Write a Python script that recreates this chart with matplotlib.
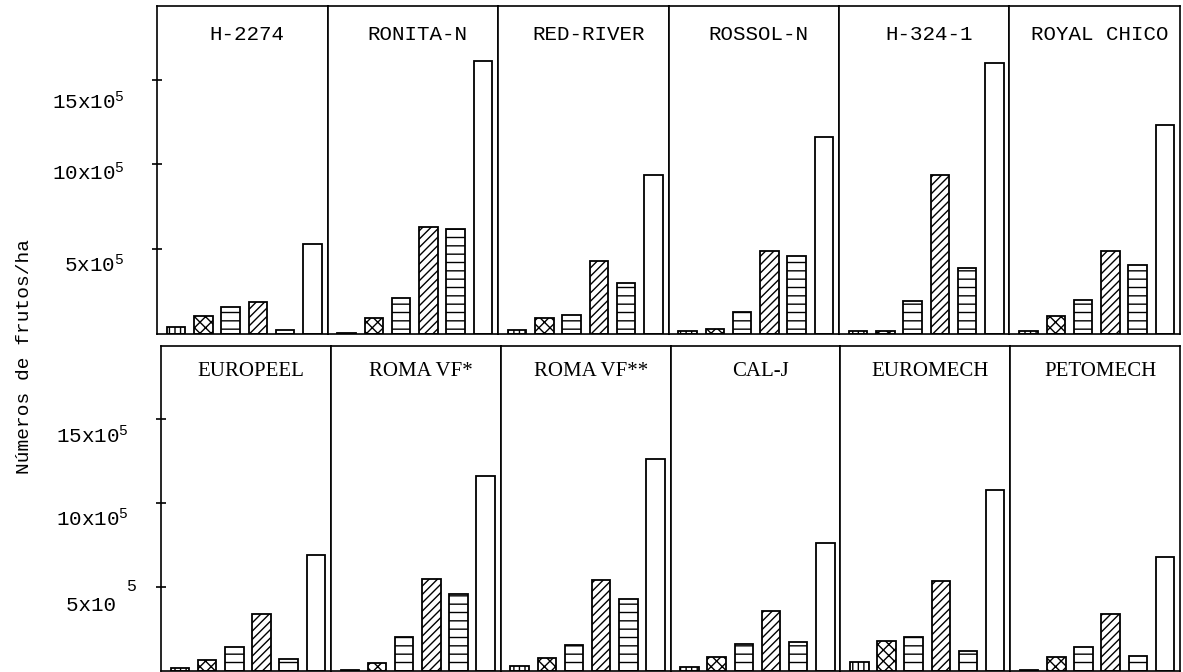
import matplotlib
matplotlib.use("Agg")
import matplotlib.pyplot as plt
from matplotlib.transforms import ScaledTranslation

# ---- data (values in units of 10^5 fruits/ha) ----
cultivares = ["H-2274", "RONITA-N", "RED-RIVER", "ROSSOL-N", "H-324-1", "ROYAL CHICO",
              "EUROPEEL", "ROMA VF*", "ROMA VF**", "CAL-J", "EUROMECH", "PETOMECH"]
serie_1 = [0.4, 0.05, 0.24, 0.18, 0.2, 0.15, 0.18, 0.05, 0.3, 0.25, 0.55, 0.05]
serie_2 = [1.06, 0.94, 0.95, 0.3, 0.2, 1.06, 0.66, 0.48, 0.8, 0.85, 1.8, 0.85]
serie_3 = [1.6, 2.1, 1.1, 1.3, 1.94, 2.0, 1.45, 2.0, 1.57, 1.6, 2.0, 1.45]
serie_4 = [1.9, 6.3, 4.3, 4.9, 9.4, 4.9, 3.4, 5.5, 5.4, 3.6, 5.35, 3.4]
serie_5 = [0.25, 6.2, 3.0, 4.6, 3.9, 4.1, 0.72, 4.6, 4.3, 1.75, 1.2, 0.9]
serie_6 = [5.3, 16.1, 9.4, 11.6, 16.0, 12.35, 6.9, 11.6, 12.65, 7.6, 10.8, 6.8]
ytick_vals = [5, 10, 15]
ytick_labels_top = ["5x10$^{5}$", "10x10$^{5}$", "15x10$^{5}$"]
ytick_labels_bot = ["5x10 ", "10x10$^{5}$", "15x10$^{5}$"]
ylabel = "Números de frutos/ha"

series = [serie_1, serie_2, serie_3, serie_4, serie_5, serie_6]
hatches = ["|||", "xxx", "--", "////", "--", ""]

plt.rcParams["hatch.linewidth"] = 1.0
plt.rcParams["mathtext.fontset"] = "custom"
plt.rcParams["mathtext.rm"] = "Liberation Mono"
plt.rcParams["mathtext.it"] = "Liberation Mono"

W, H = 1183, 672
fig = plt.figure(figsize=(W / 100, H / 100), dpi=100)

rows = [
    dict(left=157, right=1180, top=6, bottom=334, font="Liberation Mono", ty=34,
         fs=15, labels=ytick_labels_top, drop=[14, 6, 20]),
    dict(left=161, right=1180, top=346, bottom=671, font="Liberation Serif", ty=371,
         fs=15, labels=ytick_labels_bot, drop=[16, 14, 15]),
]
positions = list(range(6))

for r, row in enumerate(rows):
    pw = (row["right"] - row["left"]) / 6
    for c in range(6):
        idx = r * 6 + c
        x0 = row["left"] + c * pw
        ax = fig.add_axes([x0 / W, 1 - row["bottom"] / H, pw / W,
                           (row["bottom"] - row["top"]) / H])
        vals = [s[idx] for s in series]
        for p, v, h in zip(positions, vals, hatches):
            ax.bar(p, v, width=0.68, facecolor="white", edgecolor="black",
                   hatch=h, linewidth=1.3)
        ax.set_xlim(-0.7, 5.55)
        ax.set_ylim(0, 19.35)
        ax.set_xticks([])
        for sp in ax.spines.values():
            sp.set_linewidth(1.2)
        if c == 0:
            ax.set_yticks(ytick_vals)
            ax.set_yticklabels(row["labels"], family="Liberation Mono", fontsize=15)
            ax.tick_params(axis="y", direction="inout", length=7, width=1.2, pad=20)
            for lab, d in zip(ax.get_yticklabels(), row["drop"]):
                lab.set_transform(lab.get_transform() +
                                  ScaledTranslation(0, -d / 100, fig.dpi_scale_trans))
            if r == 1:
                # raised exponent of the lowest label, as in the original
                ax.text(-0.15, 5.05, "5", transform=ax.get_yaxis_transform(),
                        ha="right", va="center", family="Liberation Mono",
                        fontsize=12)
        else:
            ax.set_yticks([])
        ax.text(0.53, 1 - (row["ty"] - row["top"]) / (row["bottom"] - row["top"]),
                cultivares[idx], transform=ax.transAxes, ha="center", va="center",
                family=row["font"], fontsize=row["fs"])

fig.text(25 / W, 1 - 357 / H, ylabel, rotation=90, ha="center", va="center",
         family="Liberation Mono", fontsize=14)

fig.savefig("out.png", dpi=100, facecolor="white")
